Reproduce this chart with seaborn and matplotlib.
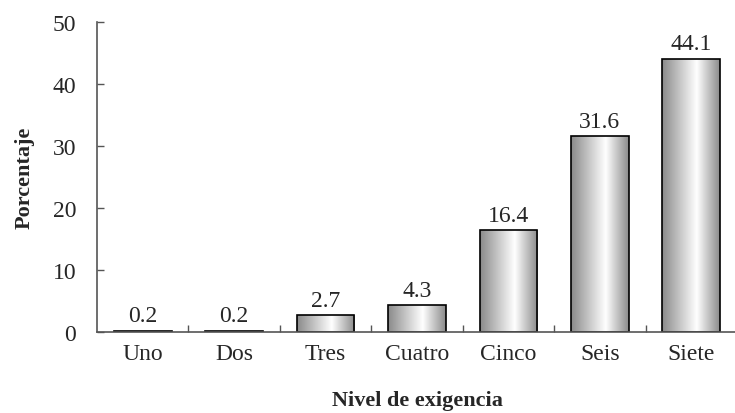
import numpy as np
import pandas as pd
import matplotlib
matplotlib.use('Agg')
import matplotlib.pyplot as plt
import seaborn as sns
from matplotlib.colors import LinearSegmentedColormap

niveles = ['Uno', 'Dos', 'Tres', 'Cuatro', 'Cinco', 'Seis', 'Siete']
porcentaje = [0.2, 0.2, 2.7, 4.3, 16.4, 31.6, 44.1]
etiquetas = ['0.2', '0.2', '2.7', '4.3', '16.4', '31.6', '44.1']

df = pd.DataFrame({'Nivel': niveles, 'Porcentaje': porcentaje})

sns.set_style('white')
plt.rcParams['font.family'] = ['Liberation Serif', 'DejaVu Serif']

fig = plt.figure(figsize=(7.35, 4.14), dpi=100)
ax = fig.add_axes([97/735, 1 - 333/414, 640/735, 310/414])

sns.barplot(data=df, x='Nivel', y='Porcentaje', color='white', width=0.63,
            edgecolor='black', linewidth=1.2, ax=ax)

# sombreado cilíndrico horizontal
cmap = LinearSegmentedColormap.from_list('cil', [(0, '#8a8a8a'), (0.6, '#ffffff'), (1, '#8a8a8a')])
grad = np.linspace(0, 1, 256).reshape(1, -1)
for bar in ax.patches:
    x0, w, h = bar.get_x(), bar.get_width(), bar.get_height()
    im = ax.imshow(grad, cmap=cmap, aspect='auto', extent=[x0, x0 + w, 0, h],
                   zorder=bar.get_zorder() - 0.1)
    im.set_clip_path(bar)
    bar.set_facecolor('none')

for i, (v, t) in enumerate(zip(porcentaje, etiquetas)):
    ax.text(i, v + 0.7, t, ha='center', va='bottom', fontsize=17)

ax.set_xlim(-0.5, 6.5)
ax.set_ylim(0, 50)
ax.set_yticks([0, 10, 20, 30, 40, 50])
ax.set_xticks(range(7))
ax.set_xticklabels(niveles)
ax.set_xticks(np.arange(0.5, 6.5, 1), minor=True)
ax.tick_params(axis='x', which='major', length=0, labelsize=17, pad=8)
ax.tick_params(axis='x', which='minor', direction='in', length=5, width=1, color='#555555', bottom=True)
ax.tick_params(axis='y', direction='in', length=5, width=1, color='#555555', labelsize=17, left=True, pad=15)

sns.despine(ax=ax)
for s in ['left', 'bottom']:
    ax.spines[s].set_color('#555555')
    ax.spines[s].set_linewidth(1.2)

ax.set_xlabel('Nivel de exigencia', fontsize=16, fontweight='bold', labelpad=19)
ax.set_ylabel('Porcentaje', fontsize=16, fontweight='bold', labelpad=13)

fig.savefig('out.png', dpi=100)
